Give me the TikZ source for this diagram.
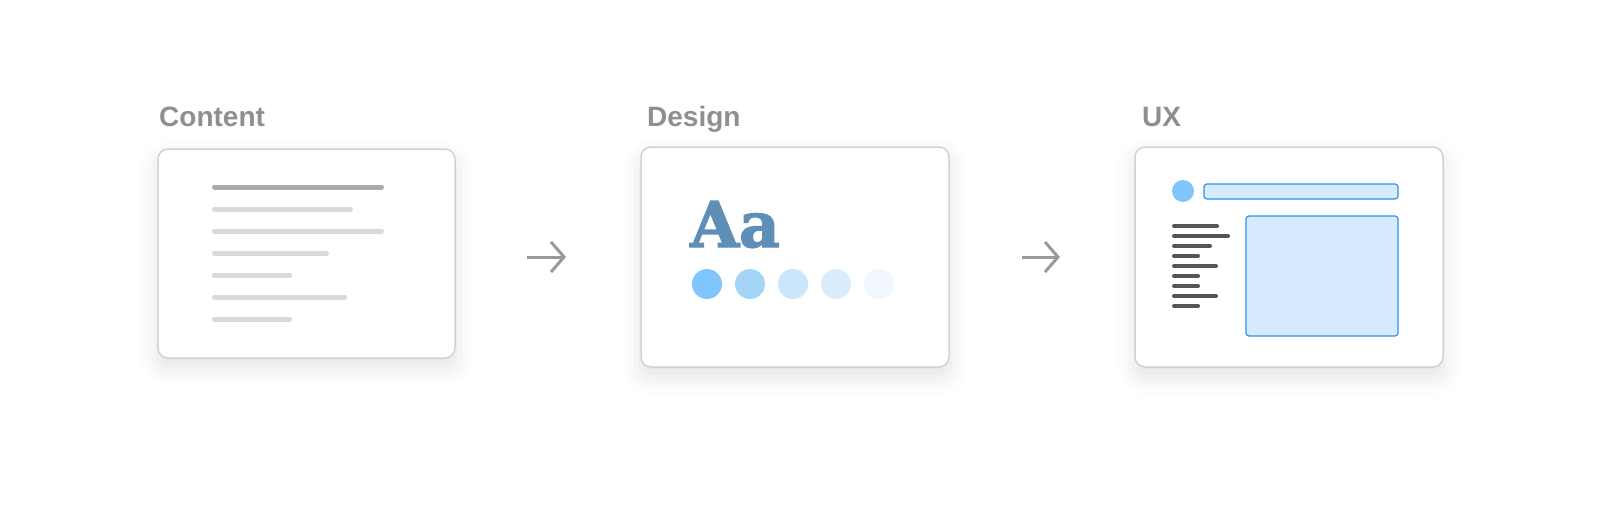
\documentclass[tikz,border=0pt]{standalone}
\usepackage{fontspec}
\setmainfont{Liberation Sans}
\newfontfamily\slabfont[FakeBold=2.2]{DejaVu Serif}
\usetikzlibrary{arrows.meta,shadows.blur}
\definecolor{labelgray}{HTML}{8F8F8F}
\definecolor{linedark}{HTML}{AAAAAA}
\definecolor{linelight}{HTML}{D9D9D9}
\definecolor{aacol}{HTML}{5F8FB6}
\definecolor{dotA}{HTML}{80C6FC}
\definecolor{dotB}{HTML}{A6D5FA}
\definecolor{dotC}{HTML}{CBE6FB}
\definecolor{dotD}{HTML}{D9ECFC}
\definecolor{dotE}{HTML}{F0F7FE}
\definecolor{uxblue}{HTML}{2B92EE}
\definecolor{uxfill}{HTML}{D6EBFD}
\definecolor{uxdark}{HTML}{555555}
\definecolor{arrowgray}{HTML}{999999}
\definecolor{cardborder}{HTML}{D2D2D2}
\tikzset{
  card/.style={draw=cardborder, line width=1.5pt, fill=white, rounded corners=10pt,
    inner sep=0pt, outer sep=0pt,
    blur shadow={shadow xshift=0pt, shadow yshift=-10pt, shadow blur radius=18pt, shadow opacity=11}},
  cardlabel/.style={anchor=base west, text=labelgray, font=\bfseries\fontsize{28}{32}\selectfont, inner sep=0pt},
  txtline/.style={line width=5pt, line cap=round, draw=linelight},
  uxline/.style={line width=4pt, line cap=round, draw=uxdark},
  flowarrow/.style={draw=arrowgray, line width=3pt, -{Straight Barb[length=13pt,width=30pt,line width=3pt]}},
  dot/.style={circle, minimum size=30pt, inner sep=0pt}
}
\begin{document}
\begin{tikzpicture}[x=1pt,y=-1pt]
\useasboundingbox (0,0) rectangle (1602,506);
% cards
\node[card, minimum width=297pt, minimum height=209pt] (c1) at (306.5,253.5) {};
\node[card, minimum width=308pt, minimum height=220pt] (c2) at (795,257) {};
\node[card, minimum width=308pt, minimum height=220pt] (c3) at (1289,257) {};
% labels
\node[cardlabel] (l1) at (159,126) {Content};
\node[cardlabel] (l2) at (647,126) {Design};
\node[cardlabel] (l3) at (1142,126) {UX};
% content lines
\draw[txtline, draw=linedark] (214.5,187) -- (381.5,187);
\draw[txtline] (214.5,209) -- (350.5,209);
\draw[txtline] (214.5,231) -- (381.5,231);
\draw[txtline] (214.5,253) -- (326.5,253);
\draw[txtline] (214.5,275) -- (289.5,275);
\draw[txtline] (214.5,297) -- (344.5,297);
\draw[txtline] (214.5,319) -- (289.5,319);
% design
\node[anchor=base west, inner sep=0pt, text=aacol, font=\slabfont\bfseries\fontsize{63}{64}\selectfont] (aa) at (690,247) {Aa};
\node[dot, fill=dotA] (d1) at (707,284) {};
\node[dot, fill=dotB] (d2) at (750,284) {};
\node[dot, fill=dotC] (d3) at (793,284) {};
\node[dot, fill=dotD] (d4) at (836,284) {};
\node[dot, fill=dotE] (d5) at (879,284) {};
% ux
\node[circle, fill=dotA, minimum size=22pt, inner sep=0pt] (ucirc) at (1183,191) {};
\node[draw=uxblue, fill=uxfill, line width=1.2pt, rounded corners=3pt, minimum width=194pt, minimum height=15pt, inner sep=0pt] (ubar) at (1301,191.5) {};
\node[draw=uxblue, fill=uxfill, line width=1.2pt, rounded corners=3pt, minimum width=152pt, minimum height=120pt, inner sep=0pt] (ubox) at (1322,276) {};
\draw[uxline] (1174,226) -- (1217,226);
\draw[uxline] (1174,236) -- (1228,236);
\draw[uxline] (1174,246) -- (1210,246);
\draw[uxline] (1174,256) -- (1198,256);
\draw[uxline] (1174,266) -- (1216,266);
\draw[uxline] (1174,276) -- (1198,276);
\draw[uxline] (1174,286) -- (1198,286);
\draw[uxline] (1174,296) -- (1216,296);
\draw[uxline] (1174,306) -- (1198,306);
% arrows
\draw[flowarrow] ([xshift=72pt]c1.east |- c2.center) -- ([xshift=-75pt]c2.west);
\draw[flowarrow] ([xshift=73pt]c2.east) -- ([xshift=-75pt]c3.west);
\end{tikzpicture}
\end{document}
